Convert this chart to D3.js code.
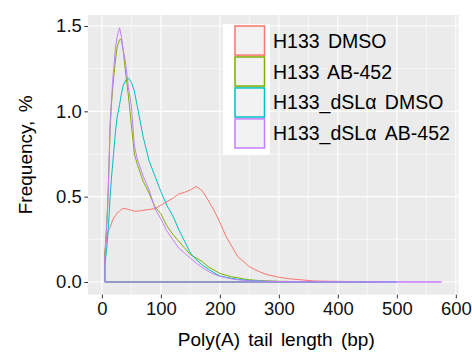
<!DOCTYPE html>
<html>
<head>
<meta charset="utf-8">
<script src="https://cdn.jsdelivr.net/npm/d3@7"></script>
<style>
  body { margin: 0; background: #fff; }
  svg { display: block; font-family: "Liberation Sans", Arial, sans-serif; }
</style>
</head>
<body>
<svg width="472" height="352"></svg>
<script>

// series names, in legend order
const groups = ['H133 DMSO', 'H133 AB-452', 'H133_dSLα DMSO', 'H133_dSLα AB-452']
const colors = ['#F8766D', '#7CAE00', '#00BFC4', '#C77CFF']

const lengths = [5, 6, 8, 10, 12, 14, 16, 18, 20, 23, 26, 30, 33, 36, 40, 45, 50, 55, 60, 70,
  80, 90, 100, 110, 120, 130, 140, 150, 160, 170, 180, 190, 200, 210, 220, 230, 240, 250,
  265, 280, 300, 320, 340, 360, 390, 420, 450, 472, 500, 540, 576]

// frequency, % (each series stops where its density ends)
const h133_dmso = [0.15, 0.21, 0.26, 0.29, 0.31, 0.32, 0.34, 0.36, 0.375, 0.39, 0.405, 0.415,
  0.425, 0.43, 0.43, 0.425, 0.42, 0.415, 0.415, 0.42, 0.425, 0.43, 0.45, 0.47, 0.49, 0.515,
  0.525, 0.54, 0.56, 0.535, 0.48, 0.42, 0.35, 0.27, 0.21, 0.15, 0.12, 0.09, 0.063, 0.043,
  0.028, 0.018, 0.012, 0.006, 0.004, 0.003, 0.002, 0.002]
const h133_ab452 = [0.17, 0.21, 0.33, 0.47, 0.68, 0.9, 1.03, 1.12, 1.2, 1.3, 1.38, 1.42, 1.42,
  1.36, 1.23, 1.09, 0.92, 0.75, 0.69, 0.59, 0.52, 0.44, 0.4, 0.33, 0.28, 0.24, 0.2, 0.16,
  0.14, 0.12, 0.09, 0.07, 0.05, 0.04, 0.03, 0.025, 0.018, 0.013, 0.009, 0.006, 0.004, 0.003,
  0.002, 0.002, 0.001, 0.001, 0.001]
const dsl_dmso = [0.1, 0.13, 0.19, 0.27, 0.38, 0.5, 0.6, 0.68, 0.76, 0.88, 0.97, 1.04, 1.1,
  1.15, 1.18, 1.195, 1.17, 1.12, 1.03, 0.85, 0.71, 0.62, 0.53, 0.45, 0.39, 0.31, 0.24, 0.17,
  0.13, 0.1, 0.076, 0.055, 0.035, 0.028, 0.021, 0.016, 0.012, 0.009, 0.006, 0.004, 0.003,
  0.002, 0.002, 0.001, 0.001, 0.001, 0.001, 0.001, 0.0005]
const dsl_ab452 = [0.15, 0.19, 0.32, 0.45, 0.68, 0.93, 1.06, 1.16, 1.25, 1.37, 1.44, 1.49, 1.44,
  1.36, 1.29, 1.14, 1.03, 0.8, 0.72, 0.62, 0.54, 0.43, 0.37, 0.3, 0.25, 0.2, 0.17, 0.14, 0.11,
  0.085, 0.063, 0.046, 0.033, 0.025, 0.018, 0.013, 0.01, 0.007, 0.005, 0.004, 0.003, 0.002,
  0.002, 0.001, 0.001, 0.001, 0.001, 0.0005, 0.0005, 0.0003, 0.0002]

const series = [h133_dmso, h133_ab452, dsl_dmso, dsl_ab452]

const x_ticks = [0, 100, 200, 300, 400, 500, 600]
const y_ticks = [0, 0.5, 1.0, 1.5]

const svg = d3.select('svg')

const margin = { top: 15, right: 13.5, bottom: 57.3, left: 88 }
const width = 472, height = 352

// ggplot style 5% expansion
const x_min = d3.min(lengths), x_max = d3.max(lengths)
const x_pad = (x_max - x_min) * 0.05
const y_max = d3.max(series.flat())
const y_pad = y_max * 0.05

const x_scale = d3.scaleLinear()
  .domain([x_min - x_pad, x_max + x_pad])
  .range([margin.left, width - margin.right])

const y_scale = d3.scaleLinear()
  .domain([-y_pad, y_max + y_pad])
  .range([height - margin.bottom, margin.top])

// panel
svg.append('rect')
  .attr('x', margin.left).attr('y', margin.top)
  .attr('width', width - margin.left - margin.right)
  .attr('height', height - margin.top - margin.bottom)
  .attr('fill', '#EBEBEB')

const grid = svg.append('g')
const x_minor = [50, 150, 250, 350, 450, 550]
const y_minor = [0.25, 0.75, 1.25]

grid.selectAll('.xminor').data(x_minor).enter().append('line')
  .attr('x1', d => x_scale(d)).attr('x2', d => x_scale(d))
  .attr('y1', margin.top).attr('y2', height - margin.bottom)
  .attr('stroke', '#fff').attr('stroke-width', 0.6)
grid.selectAll('.yminor').data(y_minor).enter().append('line')
  .attr('y1', d => y_scale(d)).attr('y2', d => y_scale(d))
  .attr('x1', margin.left).attr('x2', width - margin.right)
  .attr('stroke', '#fff').attr('stroke-width', 0.6)
grid.selectAll('.xmajor').data(x_ticks).enter().append('line')
  .attr('x1', d => x_scale(d)).attr('x2', d => x_scale(d))
  .attr('y1', margin.top).attr('y2', height - margin.bottom)
  .attr('stroke', '#fff').attr('stroke-width', 1.1)
grid.selectAll('.ymajor').data(y_ticks).enter().append('line')
  .attr('y1', d => y_scale(d)).attr('y2', d => y_scale(d))
  .attr('x1', margin.left).attr('x2', width - margin.right)
  .attr('stroke', '#fff').attr('stroke-width', 1.1)

// density outlines, closed along the baseline like geom_density
const line = d3.line()
  .x(d => x_scale(d[0]))
  .y(d => y_scale(d[1]))

series.forEach((vals, i) => {
  const pts = vals.map((v, j) => [lengths[j], v])
  const last = lengths[vals.length - 1]
  const poly = [[lengths[0], 0]].concat(pts, [[last, 0], [lengths[0], 0]])
  svg.append('path')
    .attr('d', line(poly))
    .attr('fill', 'none')
    .attr('stroke', colors[i])
    .attr('stroke-width', 1)
    .attr('stroke-linejoin', 'round')
})

// axes
const x_axis = svg.append('g')
  .attr('transform', `translate(0,${height - margin.bottom})`)
  .call(d3.axisBottom(x_scale).tickValues(x_ticks).tickSize(3.7).tickPadding(3.5).tickFormat(d3.format('d')))
const y_axis = svg.append('g')
  .attr('transform', `translate(${margin.left},0)`)
  .call(d3.axisLeft(y_scale).tickValues(y_ticks).tickSize(3.7).tickPadding(2.5).tickFormat(d3.format('.1f')))

;[x_axis, y_axis].forEach(a => {
  a.select('.domain').remove()
  a.selectAll('.tick line').attr('stroke', '#333')
  a.selectAll('.tick text')
    .attr('fill', '#111')
    .style('font-size', '18.5px')
    .style('font-family', '"Liberation Sans", Arial, sans-serif')
})

// axis titles
svg.append('text')
  .attr('x', (margin.left + width - margin.right) / 2 + 3)
  .attr('y', 346)
  .attr('text-anchor', 'middle')
  .style('font-size', '19px')
  .style('word-spacing', '3px')
  .text('Poly(A) tail length (bp)')

svg.append('text')
  .attr('transform', `translate(31.5,${(margin.top + height - margin.bottom) / 2}) rotate(-90)`)
  .attr('text-anchor', 'middle')
  .style('font-size', '19px')
  .style('word-spacing', '3px')
  .text('Frequency, %')

// legend
const legend = svg.append('g')
legend.append('rect')
  .attr('x', 223).attr('y', 24)
  .attr('width', 47).attr('height', 131)
  .attr('fill', '#fff')

const key_y = d3.scaleBand().domain(groups).range([26, 148]).paddingInner(0.06)

const keys = legend.selectAll('.key').data(groups).enter().append('g')
  .attr('transform', d => `translate(235,${key_y(d)})`)

keys.append('rect')
  .attr('width', 29.5).attr('height', key_y.bandwidth())
  .attr('fill', '#F2F2F2')
  .attr('stroke', (d, i) => colors[i])
  .attr('stroke-width', 1.5)

keys.append('text')
  .attr('x', 38)
  .attr('y', key_y.bandwidth() / 2)
  .attr('dy', '0.36em')
  .style('font-size', '19.5px')
  .style('word-spacing', '3px')
  .text(d => d)

</script>
</body>
</html>
